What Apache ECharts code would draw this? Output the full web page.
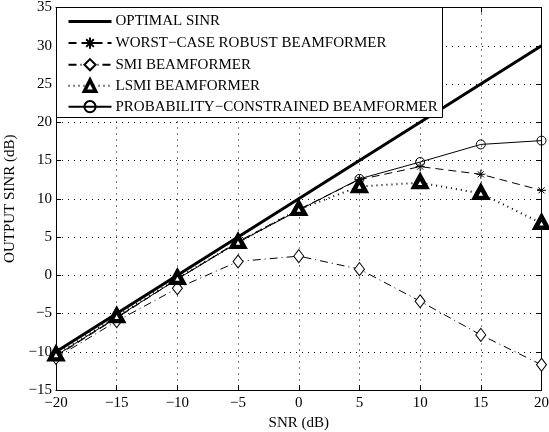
<!DOCTYPE html>
<html>
<head>
<meta charset="utf-8">
<script src="https://cdn.jsdelivr.net/npm/echarts@6/dist/echarts.min.js"></script>
<style>html,body{margin:0;padding:0;background:#fff}#c{width:549px;height:432px}</style>
</head>
<body>
<div id="c"></div>
<script>
const snr = [-20, -15, -10, -5, 0, 5, 10, 15, 20];
const optimal = [-10, -5, 0, 5, 10, 15, 20, 25, 30];
const worstCase = [-10.6, -5.6, -0.5, 4.4, 8.6, 12.5, 14.2, 13.2, 11.1];
const smi = [-10.8, -6.0, -1.7, 1.8, 2.5, 0.8, -3.4, -7.8, -11.7];
const lsmi = [-10.4, -5.4, -0.4, 4.3, 8.6, 11.6, 12.1, 10.7, 6.8];
const probConstrained = [-10.5, -5.5, -0.5, 4.3, 8.5, 12.6, 14.8, 17.1, 17.6];
const names = ['OPTIMAL SINR', 'WORST\u2212CASE ROBUST BEAMFORMER', 'SMI BEAMFORMER', 'LSMI BEAMFORMER', 'PROBABILITY\u2212CONSTRAINED BEAMFORMER'];
const xTicks = [-20, -15, -10, -5, 0, 5, 10, 15, 20];
const yTicks = [-15, -10, -5, 0, 5, 10, 15, 20, 25, 30, 35];

const font = 'Liberation Serif';
const fs = 15;
const pairs = arr => snr.map((x, i) => [x, arr[i]]);
const star = 'path://M0,5L10,5M5,0L5,10M1.6,1.6L8.4,8.4M8.4,1.6L1.6,8.4';

const chart = echarts.init(document.getElementById('c'), null, {renderer: 'canvas'});
const labelFmt = v => String(v).replace('-', '\u2212');
const baseX = {
  type: 'value', min: xTicks[0], max: xTicks[xTicks.length - 1], interval: 5,
  axisLine: {show: true, onZero: false, lineStyle: {color: '#000', width: 1}},
  axisTick: {show: true, inside: true, length: 5, lineStyle: {color: '#000'}},
  splitLine: {show: false}
};
const baseY = {
  type: 'value', min: yTicks[0], max: yTicks[yTicks.length - 1], interval: 5,
  axisLine: {show: true, onZero: false, lineStyle: {color: '#000', width: 1}},
  axisTick: {show: true, inside: true, length: 5, lineStyle: {color: '#000'}},
  splitLine: {show: false}
};
chart.setOption({
  animation: false,
  backgroundColor: '#fff',
  textStyle: {fontFamily: font, color: '#000'},
  grid: {left: 56, right: 7.5, top: 7.5, bottom: 42, containLabel: false, outerBoundsMode: 'none'},
  xAxis: [
    Object.assign({}, baseX, {
      position: 'bottom', name: 'SNR (dB)', nameLocation: 'middle', nameGap: 24,
      nameTextStyle: {fontFamily: font, fontSize: fs, color: '#000'},
      axisLabel: {fontFamily: font, fontSize: fs, color: '#000', margin: 6, formatter: labelFmt},
      splitLine: {show: true, lineStyle: {color: '#000', type: [1, 5], width: 1}}
    }),
    Object.assign({}, baseX, {position: 'top', axisLabel: {show: false}})
  ],
  yAxis: [
    Object.assign({}, baseY, {
      position: 'left', name: 'OUTPUT SINR (dB)', nameLocation: 'middle', nameGap: 36,
      nameTextStyle: {fontFamily: font, fontSize: fs, color: '#000'},
      axisLabel: {fontFamily: font, fontSize: fs, color: '#000', margin: 4, formatter: labelFmt},
      splitLine: {show: true, lineStyle: {color: '#000', type: [1, 5], width: 1}}
    }),
    Object.assign({}, baseY, {position: 'right', axisLabel: {show: false}})
  ],
  legend: {
    orient: 'vertical', left: 67, top: 14, padding: 0,
    itemWidth: 43, itemHeight: 14, itemGap: 6, z: 20,
    textStyle: {fontFamily: font, fontSize: fs, color: '#000', padding: [0, 0, 0, -1]},
    data: [
      {name: names[0], lineStyle: {width: 3}},
      {name: names[1]},
      {name: names[2]},
      {name: names[3], itemStyle: {borderWidth: 3.5, color: '#fff', borderColor: '#000'}},
      {name: names[4]}
    ]
  },
  graphic: [{
    type: 'rect', z: 15, silent: true,
    shape: {x: 56.5, y: 7.5, width: 386, height: 110},
    style: {fill: '#fff', stroke: '#000', lineWidth: 1}
  }],
  series: [
    {name: names[0], type: 'line', data: pairs(optimal), showSymbol: false, symbol: 'none',
     lineStyle: {color: '#000', width: 3}, itemStyle: {color: 'rgba(0,0,0,0)', borderWidth: 0}, z: 3},
    {name: names[1], type: 'line', data: pairs(worstCase), symbol: star, symbolSize: 9,
     lineStyle: {color: '#000', width: 1, type: [8, 5]},
     itemStyle: {color: 'none', borderColor: '#000', borderWidth: 1}, z: 4},
    {name: names[2], type: 'line', data: pairs(smi), symbol: 'diamond', symbolSize: [10, 13],
     lineStyle: {color: '#000', width: 1, type: [8, 4, 1, 4]},
     itemStyle: {color: '#fff', borderColor: '#000', borderWidth: 1}, z: 4},
    {name: names[3], type: 'line', data: pairs(lsmi), symbol: 'triangle', symbolSize: [12, 11], symbolOffset: [0, -1],
     lineStyle: {color: '#000', width: 2, type: [1, 4]},
     itemStyle: {color: '#fff', borderColor: '#000', borderWidth: 4.5}, z: 4},
    {name: names[4], type: 'line', data: pairs(probConstrained), symbol: 'circle', symbolSize: 9,
     lineStyle: {color: '#000', width: 1},
     itemStyle: {color: 'rgba(255,255,255,0)', borderColor: '#000', borderWidth: 1}, z: 4}
  ]
});
</script>
</body>
</html>
